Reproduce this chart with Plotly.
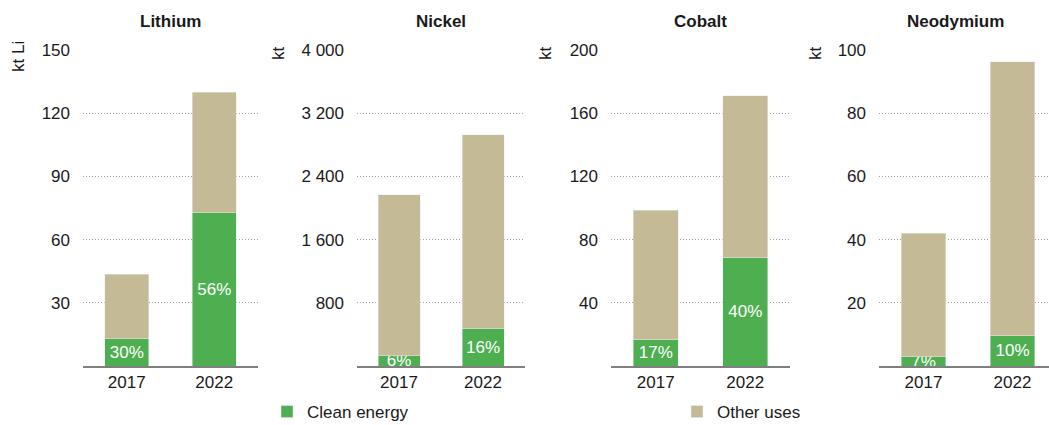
import plotly.graph_objects as go
from plotly.subplots import make_subplots

# Demand for critical minerals, 2017 vs 2022
minerals = ["Lithium", "Nickel", "Cobalt", "Neodymium"]
years = ["2017", "2022"]
units = ["kt Li", "kt", "kt", "kt"]

# total demand per mineral (kt)
total_lithium = [43.5, 130]
total_nickel = [2170, 2930]
total_cobalt = [98.5, 171]
total_neodymium = [42, 96.3]

# share of total demand going to clean energy (%)
share_lithium = [30, 56]
share_nickel = [6, 16]
share_cobalt = [17, 40]
share_neodymium = [7, 10]

# y-axis ticks
ticks_lithium = [30, 60, 90, 120, 150]
ticks_nickel = [800, 1600, 2400, 3200, 4000]
ticklabels_nickel = ["800", "1 600", "2 400", "3 200", "4 000"]
ticks_cobalt = [40, 80, 120, 160, 200]
ticks_neodymium = [20, 40, 60, 80, 100]

totals = [total_lithium, total_nickel, total_cobalt, total_neodymium]
shares = [share_lithium, share_nickel, share_cobalt, share_neodymium]
tickvals = [ticks_lithium, ticks_nickel, ticks_cobalt, ticks_neodymium]
ticktexts = [[str(v) for v in ticks_lithium], ticklabels_nickel,
             [str(v) for v in ticks_cobalt], [str(v) for v in ticks_neodymium]]

GREEN = "#4eaf51"
TAN = "#c4bb96"
INK = "#1a1a1a"
FONT = "Liberation Sans, Arial, sans-serif"
W, H = 1049, 425

# plot-area geometry in pixels
x_dom_px = [(83, 258), (357, 525), (611, 790), (879, 1049)]
x_ranges = [[-0.5, 1.5], [-0.5, 1.5], [-0.5, 1.5], [-0.5, 1.41]]
y_dom = [1 - 366 / H, 1 - 50 / H]
title_x_px = [170, 441, 700, 955]
unit_pos_px = [(18, 57), (278, 53), (545, 53), (815, 53)]

fig = make_subplots(rows=1, cols=4)

for i, m in enumerate(minerals):
    clean = [t * s / 100 for t, s in zip(totals[i], shares[i])]
    other = [t - c for t, c in zip(totals[i], clean)]
    fig.add_trace(go.Bar(
        x=years, y=clean, name="Clean energy", marker_color=GREEN,
        text=[f"{s}%" for s in shares[i]], textposition="inside",
        insidetextanchor="middle", textangle=0,
        textfont=dict(color="white", size=17, family=FONT),
        legend="legend", legendgroup="clean", showlegend=(i == 0),
        hoverinfo="skip",
    ), row=1, col=i + 1)
    fig.add_trace(go.Bar(
        x=years, y=other, name="Other uses", marker_color=TAN,
        legend="legend2", legendgroup="other", showlegend=(i == 0),
        hoverinfo="skip",
    ), row=1, col=i + 1)

    xa = "xaxis" if i == 0 else f"xaxis{i + 1}"
    ya = "yaxis" if i == 0 else f"yaxis{i + 1}"
    x0, x1 = x_dom_px[i]
    fig.layout[xa].update(
        domain=[x0 / W, x1 / W], range=x_ranges[i], type="category",
        showline=True, linecolor="#7f7f7f", linewidth=1.5,
        showgrid=False, ticks="", ticklabelstandoff=0, automargin=False,
        tickfont=dict(size=17, color=INK, family=FONT),
    )
    fig.layout[ya].update(
        domain=y_dom, range=[0, tickvals[i][-1]],
        tickvals=tickvals[i], ticktext=ticktexts[i],
        showgrid=True, gridcolor="#a0a0a0", griddash="1px,2px", gridwidth=1,
        zeroline=False, showline=False, ticks="", ticklabelstandoff=12,
        automargin=False,
        tickfont=dict(size=17, color=INK, family=FONT),
    )
    fig.add_annotation(
        text=f"<b>{m}</b>", xref="paper", yref="paper",
        x=title_x_px[i] / W, y=1 - 21 / H, xanchor="center", yanchor="middle",
        showarrow=False, font=dict(size=17, color=INK, family=FONT),
    )
    ux, uy = unit_pos_px[i]
    fig.add_annotation(
        text=units[i], xref="paper", yref="paper",
        x=ux / W, y=1 - uy / H, xanchor="center", yanchor="middle",
        textangle=-90, showarrow=False,
        font=dict(size=17, color=INK, family=FONT),
    )

legend_style = dict(
    orientation="h", xanchor="left", yanchor="middle",
    font=dict(size=17, color=INK, family=FONT),
    bgcolor="rgba(0,0,0,0)", borderwidth=0,
)
fig.update_layout(
    barmode="stack", bargap=0.5,
    width=W, height=H,
    margin=dict(l=0, r=0, t=0, b=0, autoexpand=False),
    paper_bgcolor="white", plot_bgcolor="white",
    uniformtext=dict(minsize=17, mode="show"),
    legend=dict(x=267 / W, y=1 - 412 / H, **legend_style),
    legend2=dict(x=677 / W, y=1 - 412 / H, **legend_style),
    font=dict(family=FONT),
)

fig.write_html("out.html")
